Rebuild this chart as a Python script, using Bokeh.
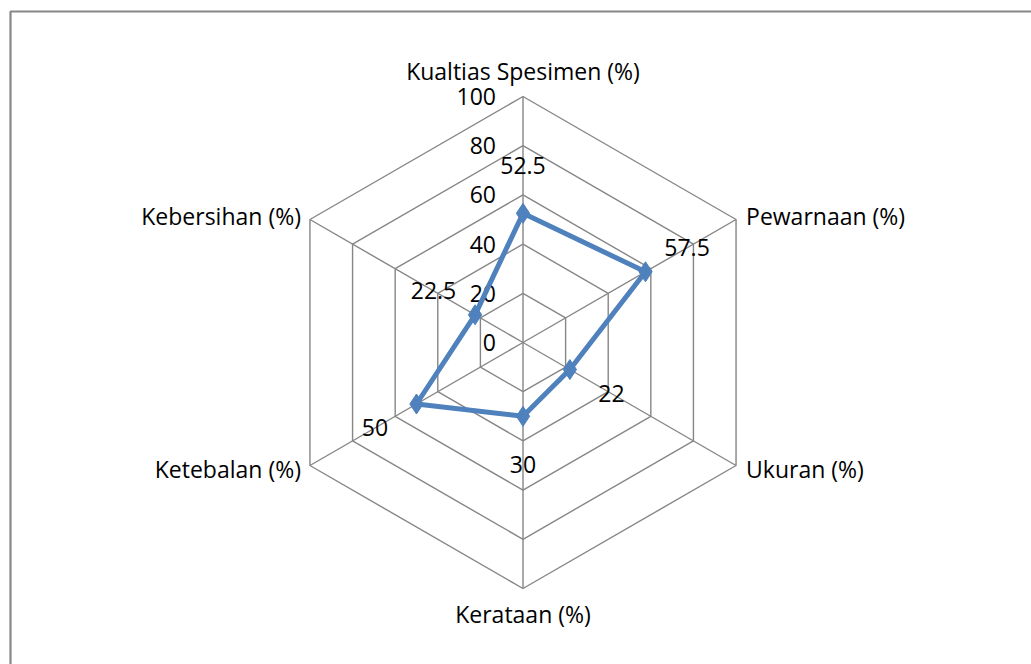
import math
from bokeh.plotting import figure
from bokeh.models import Range1d, ColumnDataSource
from bokeh.core.properties import value
from bokeh.embed import file_html
from bokeh.resources import INLINE

# ---- data ----
categories = ["Kualtias Spesimen (%)", "Pewarnaan (%)", "Ukuran (%)",
              "Kerataan (%)", "Ketebalan (%)", "Kebersihan (%)"]
values = [52.5, 57.5, 22, 30, 50, 22.5]
value_labels = ["52.5", "57.5", "22", "30", "50", "22.5"]
ticks = [0, 20, 40, 60, 80, 100]
tick_labels = ["0", "20", "40", "60", "80", "100"]

# ---- layout ----
W, H = 1031, 664
cx, cy = 522.5, 342.0          # centre in canvas pixels (top-left origin)
k = 2.46                        # pixels per unit
FONT = "Open Sans"
FS = "23px"

p = figure(width=W, height=H, output_backend="svg", toolbar_location=None,
           x_range=Range1d(-cx / k, (W - cx) / k),
           y_range=Range1d(-(H - cy) / k, cy / k),
           min_border=0)
p.axis.visible = False
p.grid.visible = False
p.outline_line_color = None
p.background_fill_color = "white"
p.border_fill_color = "white"

def px(xp, yp):
    return (xp - cx) / k, (cy - yp) / k

# chart-area border (decoration)
bx, by = zip(px(10, H + 20), px(10, 11), px(W + 20, 11))
p.line(list(bx), list(by), line_color="#878787", line_width=2.2)

n = len(categories)
ang = [math.radians(90 - 360.0 / n * i) for i in range(n)]
top = ticks[-1]

# grid hexagons
for t in ticks[1:]:
    xs = [t * math.cos(a) for a in ang] + [t * math.cos(ang[0])]
    ys = [t * math.sin(a) for a in ang] + [t * math.sin(ang[0])]
    p.line(xs, ys, line_color="#868686", line_width=1.4)
# spokes
p.multi_line([[0, top * math.cos(a)] for a in ang],
             [[0, top * math.sin(a)] for a in ang],
             line_color="#868686", line_width=1.4)

# tick labels along top axis
p.text(x=[-11] * len(ticks), y=ticks, text=tick_labels,
       text_align="right", text_baseline="middle",
       text_font=value(FONT), text_font_size=FS, text_color="#000000")

# series
sx = [v * math.cos(a) for v, a in zip(values, ang)]
sy = [v * math.sin(a) for v, a in zip(values, ang)]
p.line(sx + [sx[0]], sy + [sy[0]], line_color="#4F81BD", line_width=5,
       line_join="round")
p.scatter(sx, sy, marker="diamond", size=20, fill_color="#4F81BD",
          line_color="#4F81BD")

# data labels, placed radially outward
off = 19.5
lx = [(v + off) * math.cos(a) for v, a in zip(values, ang)]
ly = [(v + off) * math.sin(a) for v, a in zip(values, ang)]
p.text(x=lx, y=ly, text=value_labels, text_align="center",
       text_baseline="middle", text_font=value(FONT), text_font_size=FS,
       text_color="#000000")

# category labels
aligns = ["center", "left", "left", "center", "right", "right"]
dxp = [0, 10, 10, 0, -9, -9]
dyp = [-26, -4, 3, 25, 3, -4]
cxs, cys = [], []
for a, dx, dy in zip(ang, dxp, dyp):
    cxs.append(top * math.cos(a) + dx / k)
    cys.append(top * math.sin(a) - dy / k)
src = ColumnDataSource(dict(x=cxs, y=cys, t=categories, al=aligns))
p.text(x="x", y="y", text="t", text_align="al", text_baseline="middle",
       source=src, text_font=value(FONT), text_font_size=FS,
       text_color="#000000")

open("out.html", "w").write(file_html(p, INLINE))
